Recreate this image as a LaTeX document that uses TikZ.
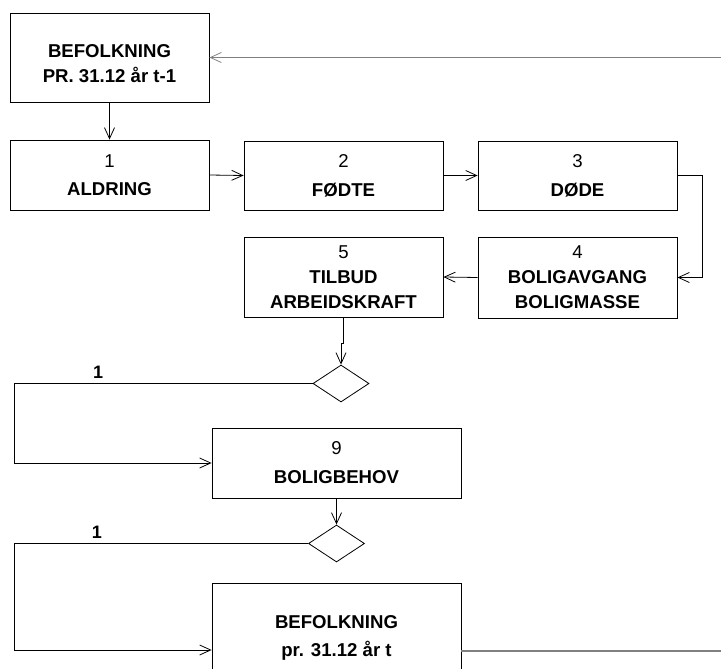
\documentclass[tikz,border=0pt]{standalone}
\usepackage{fontspec}
\setmainfont{Liberation Sans}
\usetikzlibrary{arrows.meta,shapes.geometric}

\tikzset{
  box/.style={draw, line width=0.8pt, rectangle, minimum width=199pt,
    inner sep=0pt, align=center,
    font=\fontsize{18.6}{25}\selectfont\bfseries},
  widebox/.style={box, minimum width=249pt},
  gap/.style={font=\fontsize{18.6}{#1}\selectfont\bfseries},
  choice/.style={draw, line width=0.8pt, diamond, inner sep=0pt,
    minimum width=56pt, minimum height=37pt},
  flow/.style={line width=0.8pt,
    -{Straight Barb[length=11pt,width=10pt,line width=0.8pt]}},
  loop/.style={flow, draw=black!50, line width=1.5pt},
  plain/.style={line width=1.5pt, draw=black!50},
  tag/.style={font=\fontsize{18}{20}\selectfont\bfseries}
}

\begin{document}
\begin{tikzpicture}[x=1pt, y=-1pt]
  \useasboundingbox (0,0) rectangle (721,669);
  \clip (0,0) rectangle (721,669);

  % process boxes
  \node[box, minimum height=89pt] (start) at (109.5,57.5)
    {\\BEFOLKNING\\PR. 31.12 år t-1};
  \node[box, gap=28, minimum height=70pt] (aldring) at (109.5,175)
    {\mdseries 1\\ALDRING};
  \node[box, gap=29, minimum height=69pt] (fodte) at (343.5,175.5)
    {\mdseries 2\\FØDTE};
  \node[box, gap=29, minimum height=69pt] (dode) at (577.5,175.5)
    {\mdseries 3\\DØDE};
  \node[box, minimum height=81pt] (bolig) at (577.5,277.5)
    {\mdseries 4\\BOLIGAVGANG\\BOLIGMASSE};
  \node[box, minimum height=80pt] (tilbud) at (343.5,277)
    {\mdseries 5\\TILBUD\\ARBEIDSKRAFT};
  \node[widebox, gap=29, minimum height=70pt] (behov) at (336.5,463)
    {\mdseries 9\\BOLIGBEHOV};
  \node[widebox, gap=28, minimum height=110pt] (slutt) at (336.5,638)
    {BEFOLKNING\\pr. 31.12 år t};

  % decision points
  \node[choice] (valg1) at (341,383.5) {};
  \node[choice] (valg2) at (336.5,543.5) {};

  % main chain
  \draw[flow] (start.south) -- (aldring.north);
  \draw[flow] (aldring.east) -- (fodte.west);
  \draw[flow] (fodte.east) -- (dode.west);
  \draw[flow] (dode.east) -- ++(25,0) |- (bolig.east);
  \draw[flow] (bolig.west) -- (tilbud.west -| tilbud.east);
  \draw[flow] (tilbud.south) -- ++(0,26) -| (valg1.north);
  \draw[flow] (valg1.west) -- ++(-298,0) node[tag, pos=0.72, above=1pt] (n1) {1}
    |- (behov.west);
  \draw[flow] (behov.south) -- (valg2.north);
  \draw[flow] (valg2.west) -- ++(-293.5,0) node[tag, pos=0.72, above=1pt] (n2) {1}
    |- ([yshift=-12pt]slutt.west);

  % feedback to next year
  \coordinate (ut) at (721,651);
  \coordinate (inn) at (721,57.5);
  \draw[plain] ([yshift=-13pt]slutt.east) -- (ut);
  \draw[loop] (inn) -- (start.east);
\end{tikzpicture}
\end{document}
